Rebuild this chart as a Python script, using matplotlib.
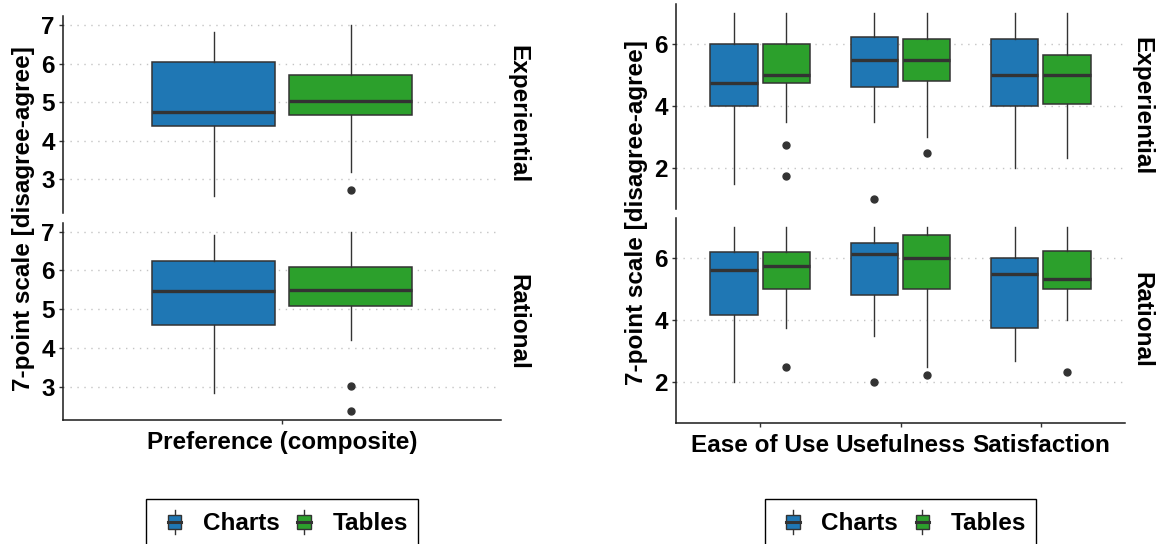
import numpy as np
import matplotlib
matplotlib.use("Agg")
import matplotlib.pyplot as plt
from matplotlib.patches import Patch, Rectangle
from matplotlib.lines import Line2D
from matplotlib.legend_handler import HandlerBase

# categories and groups
pref_categories = ['Preference (composite)']
tam_categories = ['Ease of Use', 'Usefulness', 'Satisfaction']
groups = ['Charts', 'Tables']
facets = ['Experiential', 'Rational']

# five-number summaries: [lower whisker, Q1, median, Q3, upper whisker]
pref_exp_charts = [[2.58, 4.38, 4.75, 6.05, 6.83]]
pref_exp_tables = [[3.20, 4.67, 5.02, 5.70, 7.00]]
pref_rat_charts = [[2.83, 4.59, 5.48, 6.24, 6.91]]
pref_rat_tables = [[4.20, 5.08, 5.50, 6.08, 7.00]]
pref_exp_charts_out = [[]]
pref_exp_tables_out = [[2.72]]
pref_rat_charts_out = [[]]
pref_rat_tables_out = [[3.03, 2.37]]

tam_exp_charts = [[1.50, 4.00, 4.75, 6.00, 7.00],
                  [3.50, 4.62, 5.50, 6.25, 7.00],
                  [2.00, 4.00, 5.00, 6.16, 7.00]]
tam_exp_tables = [[3.50, 4.75, 5.00, 6.00, 7.00],
                  [3.00, 4.80, 5.50, 6.18, 7.00],
                  [2.34, 4.07, 5.00, 5.65, 7.00]]
tam_rat_charts = [[2.00, 4.17, 5.62, 6.19, 7.00],
                  [3.50, 4.80, 6.13, 6.50, 7.00],
                  [2.68, 3.74, 5.50, 6.00, 7.00]]
tam_rat_tables = [[3.75, 5.00, 5.75, 6.19, 7.00],
                  [2.50, 5.00, 6.00, 6.75, 7.00],
                  [4.00, 5.00, 5.34, 6.25, 7.00]]
tam_exp_charts_out = [[], [1.0], []]
tam_exp_tables_out = [[2.75, 1.75], [2.5], []]
tam_rat_charts_out = [[], [2.0], []]
tam_rat_tables_out = [[2.5], [2.25], [2.33]]

colors = {'Charts': '#1f77b4', 'Tables': '#2ca02c'}
EDGE = '#333333'

plt.rcParams['font.family'] = ['Liberation Sans', 'DejaVu Sans']
plt.rcParams['font.weight'] = 'bold'
FS = 17.5

FIG_W, FIG_H = 1163, 544
fig = plt.figure(figsize=(FIG_W / 100, FIG_H / 100), dpi=100)


def px_rect(x0, y0, x1, y1):
    return [x0 / FIG_W, 1 - y1 / FIG_H, (x1 - x0) / FIG_W, (y1 - y0) / FIG_H]


def to_stats(summary, outliers):
    lo, q1, med, q3, hi = summary
    return dict(whislo=lo, q1=q1, med=med, q3=q3, whishi=hi, fliers=outliers)


def draw_facet(ax, cats, charts, tables, charts_out, tables_out, ylim, yticks,
               facet, bottom):
    x = np.arange(1, len(cats) + 1)
    for g, data, outs, off in [('Charts', charts, charts_out, -0.1875),
                               ('Tables', tables, tables_out, 0.1875)]:
        stats = [to_stats(s, o) for s, o in zip(data, outs)]
        ax.bxp(stats, positions=x + off, widths=0.3375, patch_artist=True,
               showcaps=False,
               boxprops=dict(facecolor=colors[g], edgecolor=EDGE, linewidth=1.1),
               medianprops=dict(color=EDGE, linewidth=2.4, solid_capstyle='butt'),
               whiskerprops=dict(color=EDGE, linewidth=1.0),
               flierprops=dict(marker='o', markerfacecolor=EDGE,
                               markeredgecolor=EDGE, markersize=5))
    ax.set_xlim(0.4, len(cats) + 0.6)
    ax.set_ylim(*ylim)
    ax.set_yticks(yticks)
    ax.grid(axis='y', color='#c4c4c4', linewidth=1.0, linestyle=(0, (1, 4)))
    ax.set_axisbelow(True)
    for s in ['top', 'right']:
        ax.spines[s].set_visible(False)
    ax.spines['left'].set_color('#1a1a1a')
    ax.spines['left'].set_linewidth(1.1)
    ax.tick_params(axis='y', labelsize=FS, length=3, width=1, color=EDGE, pad=3)
    if bottom:
        ax.set_xticks(x)
        ax.set_xticklabels(cats)
        ax.spines['bottom'].set_color('#1a1a1a')
        ax.spines['bottom'].set_linewidth(1.1)
        ax.tick_params(axis='x', labelsize=FS, length=3, width=1, color=EDGE, pad=5)
    else:
        ax.spines['bottom'].set_visible(False)
        ax.set_xticks([])
    ax.annotate(facet, xy=(1, 0.5), xycoords='axes fraction', xytext=(12, 0),
                textcoords='offset points', rotation=-90, ha='center',
                va='center', fontsize=FS, fontweight='bold')


class BoxKeyHandler(HandlerBase):
    # small box-and-whisker glyph for the legend keys
    def create_artists(self, legend, orig_handle, xdescent, ydescent,
                       width, height, fontsize, trans):
        cx = width / 2 - xdescent
        cy = height / 2 - ydescent
        bw, bh = 9.8, 9.5
        whisk = Line2D([cx, cx], [cy - 8.8, cy + 8.8], color=EDGE, lw=1.0,
                       transform=trans)
        box = Rectangle((cx - bw / 2, cy - bh / 2), bw, bh,
                        facecolor=orig_handle.get_facecolor(), edgecolor=EDGE,
                        lw=1.0, transform=trans)
        med = Line2D([cx - bw / 2, cx + bw / 2], [cy, cy], color=EDGE, lw=2.2,
                     transform=trans)
        return [whisk, box, med]


def add_legend(x_center_px):
    handles = [Patch(facecolor=colors[g], label=g) for g in groups]
    leg = fig.legend(handles=handles, loc='upper center',
                     bbox_to_anchor=(x_center_px / FIG_W, 1 - 499.3 / FIG_H),
                     bbox_transform=fig.transFigure, ncol=2, frameon=True,
                     fancybox=False, framealpha=1, edgecolor='black',
                     prop=dict(size=FS, weight='bold'), borderaxespad=0,
                     handlelength=1.5, handleheight=1.2, handletextpad=0.42,
                     columnspacing=0.25, borderpad=0.42,
                     handler_map={Patch: BoxKeyHandler()})
    leg.get_frame().set_linewidth(1.0)


# left panel: composite preference
ax1 = fig.add_axes(px_rect(63.3, 16, 501, 212.9))
ax2 = fig.add_axes(px_rect(63.3, 222.7, 501, 420.3))
pref_ylim = (2.133, 7.232)
draw_facet(ax1, pref_categories, pref_exp_charts, pref_exp_tables,
           pref_exp_charts_out, pref_exp_tables_out, pref_ylim, [3, 4, 5, 6, 7],
           facets[0], False)
draw_facet(ax2, pref_categories, pref_rat_charts, pref_rat_tables,
           pref_rat_charts_out, pref_rat_tables_out, pref_ylim, [3, 4, 5, 6, 7],
           facets[1], True)
fig.text(24 / FIG_W, 1 - 218.5 / FIG_H, '7-point scale [disagree-agree]',
         rotation=90, ha='center', va='center', fontsize=FS, fontweight='bold')
add_legend(282.2)

# right panel: TAM items
ax3 = fig.add_axes(px_rect(676, 4, 1125, 208.6))
ax4 = fig.add_axes(px_rect(676, 218, 1125, 422.6))
tam_ylim = (0.7, 7.3)
draw_facet(ax3, tam_categories, tam_exp_charts, tam_exp_tables,
           tam_exp_charts_out, tam_exp_tables_out, tam_ylim, [2, 4, 6],
           facets[0], False)
draw_facet(ax4, tam_categories, tam_rat_charts, tam_rat_tables,
           tam_rat_charts_out, tam_rat_tables_out, tam_ylim, [2, 4, 6],
           facets[1], True)
fig.text(636 / FIG_W, 1 - 213 / FIG_H, '7-point scale [disagree-agree]',
         rotation=90, ha='center', va='center', fontsize=FS, fontweight='bold')
add_legend(900.5)

fig.savefig('out.png', dpi=100)
